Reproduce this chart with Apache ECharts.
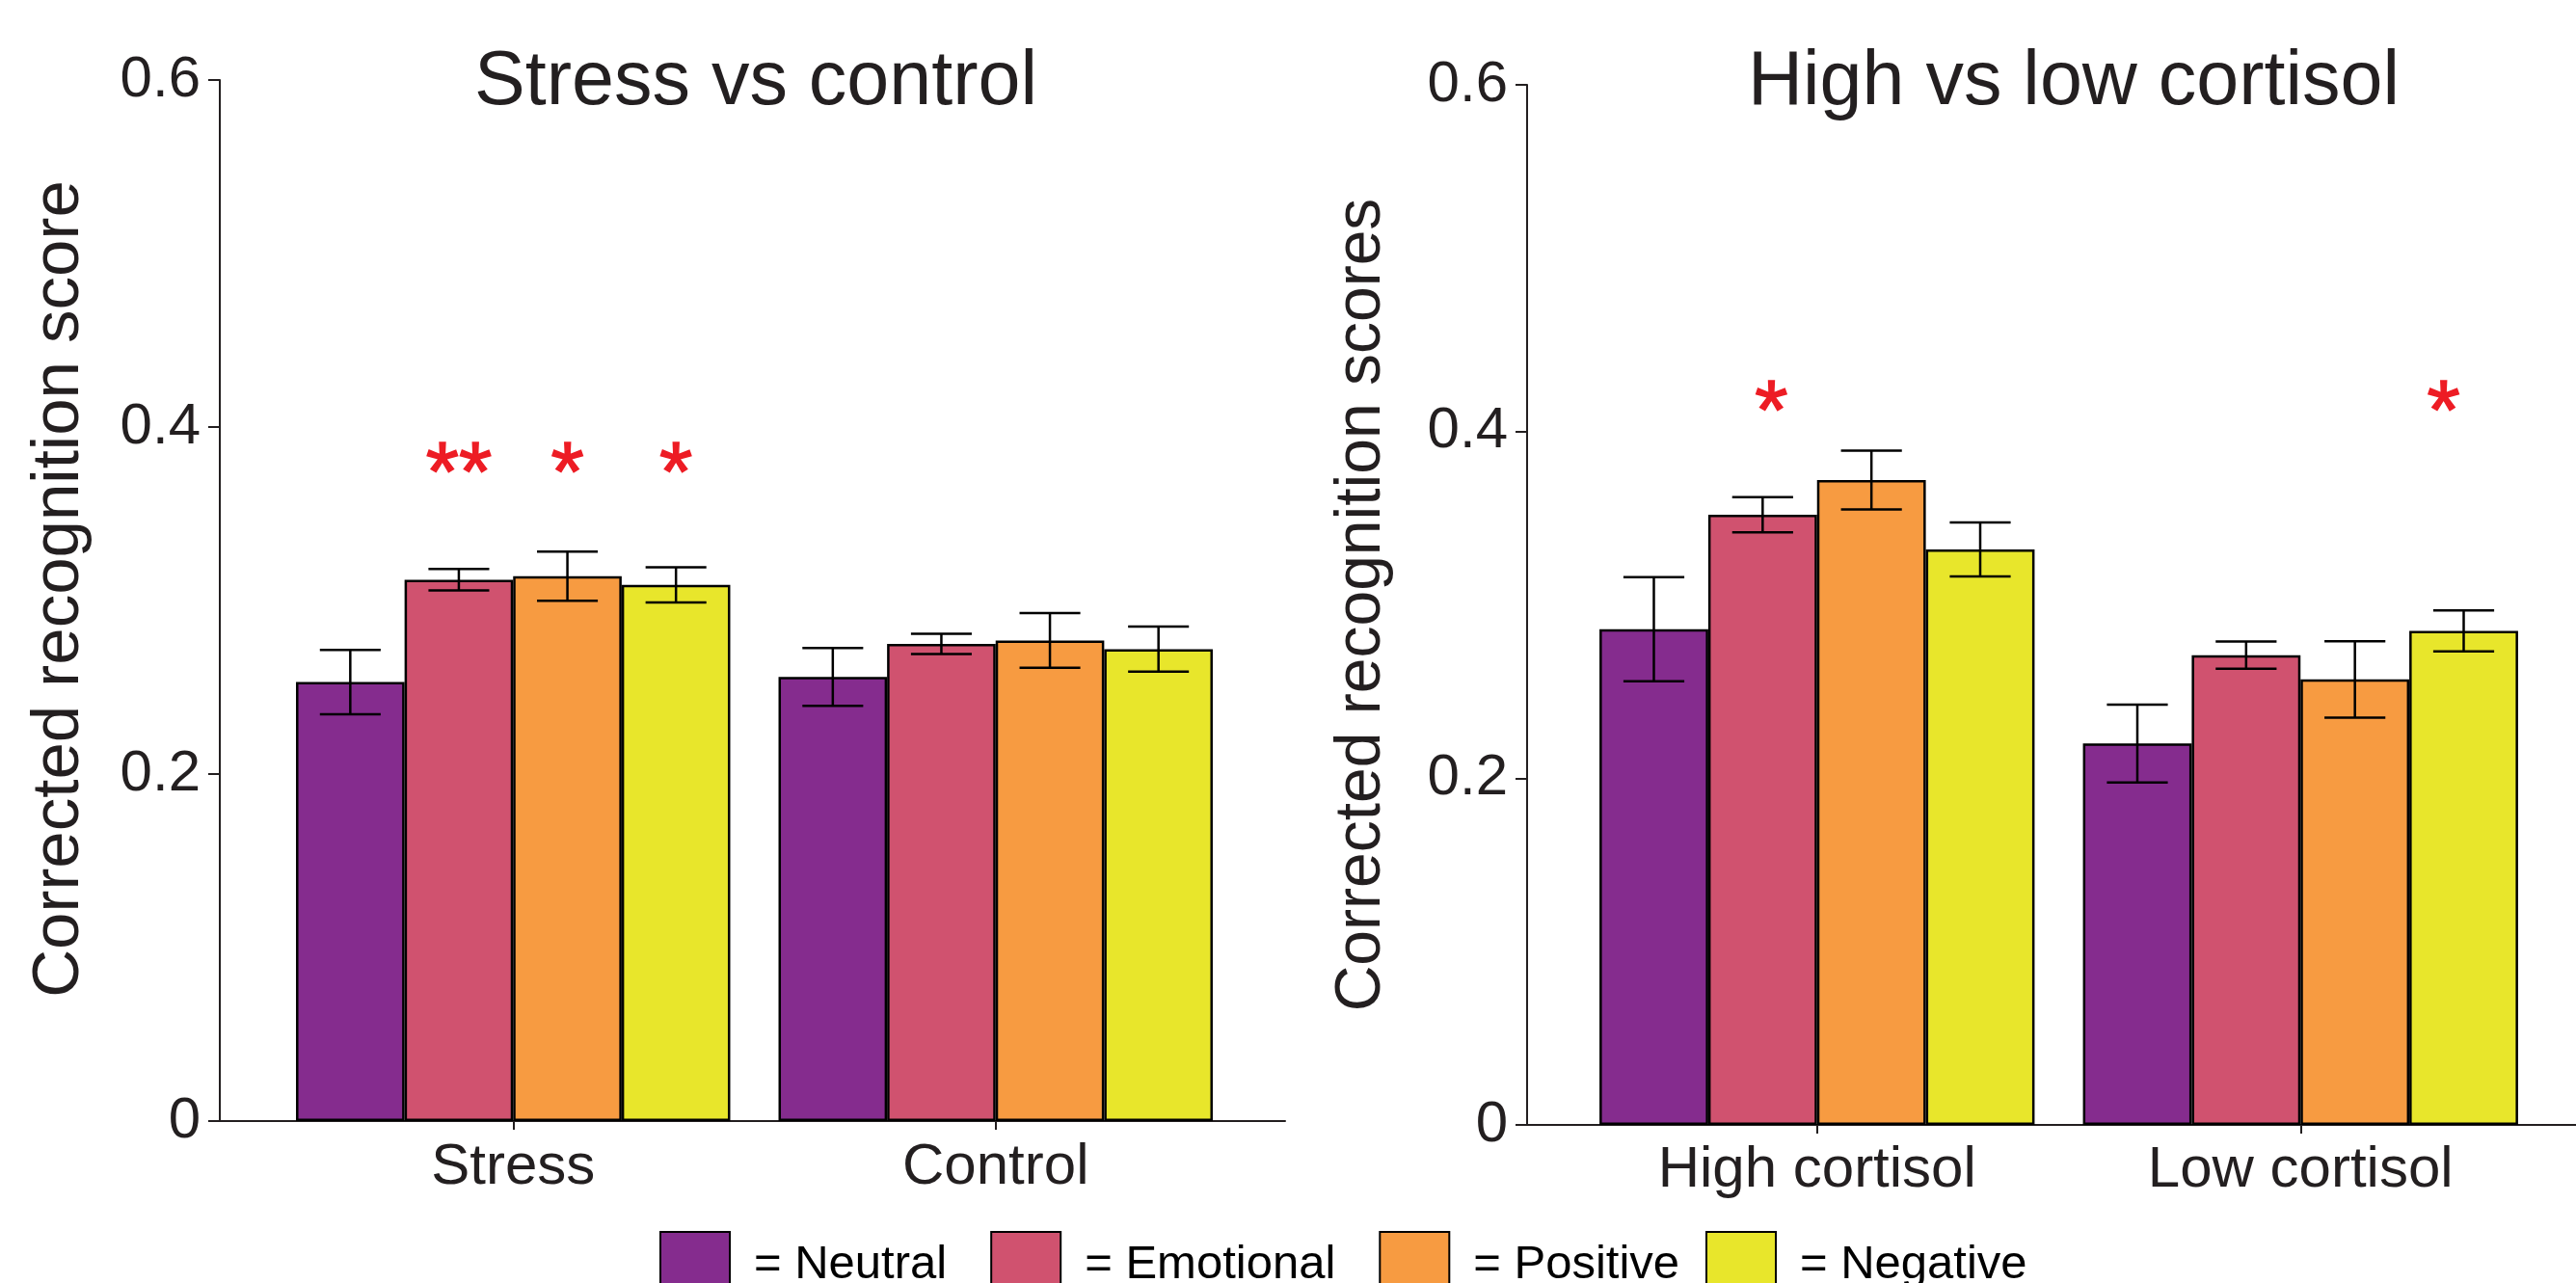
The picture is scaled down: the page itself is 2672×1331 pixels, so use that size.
<!DOCTYPE html>
<html><head><meta charset="utf-8">
<script src="https://cdn.jsdelivr.net/npm/echarts@6/dist/echarts.min.js"></script>
<style>html,body{margin:0;padding:0;background:#fff}#c{width:2672px;height:1331px}</style>
</head><body><div id="c"></div>
<script>
// ---------- data ----------
const conditions = ['Neutral', 'Emotional', 'Positive', 'Negative'];
const colors = ['#852c8e', '#d0526f', '#f79b41', '#e8e62b'];
const yTicks = [0, 0.2, 0.4, 0.6];

const leftTitle = 'Stress vs control';
const leftAxisName = 'Corrected recognition score';
const leftCategories = ['Stress', 'Control'];
const leftNeutral   = [0.253, 0.256];
const leftEmotional = [0.312, 0.275];
const leftPositive  = [0.314, 0.277];
const leftNegative  = [0.309, 0.272];
const leftNeutralErr   = [0.0185, 0.0167];
const leftEmotionalErr = [0.0062, 0.0058];
const leftPositiveErr  = [0.0142, 0.0158];
const leftNegativeErr  = [0.0101, 0.0130];
// significance marks: [category index, condition index, mark]
const leftSig = [[0, 1, '**'], [0, 2, '*'], [0, 3, '*']];
const leftSigLevel = 0.382;

const rightTitle = 'High vs low cortisol';
const rightAxisName = 'Corrected recognition scores';
const rightCategories = ['High cortisol', 'Low cortisol'];
const rightNeutral   = [0.286, 0.220];
const rightEmotional = [0.352, 0.271];
const rightPositive  = [0.372, 0.257];
const rightNegative  = [0.332, 0.285];
const rightNeutralErr   = [0.030, 0.0225];
const rightEmotionalErr = [0.0101, 0.0078];
const rightPositiveErr  = [0.0170, 0.022];
const rightNegativeErr  = [0.0156, 0.0118];
const rightSig = [[0, 1, '*'], [1, 3, '*']];
const rightSigLevel = 0.42;

// ---------- styling ----------
const FONT = '"Liberation Sans", Arial, Helvetica, sans-serif';
const INK = '#231f20';
const CAT_GAP = 0.10;
const SIG_FONT = 88;
const leftSigNudge = [0, 0, 0];     // horizontal pixel nudges of the marks
const rightSigNudge = [9, -21];

const leftMeans = [leftNeutral, leftEmotional, leftPositive, leftNegative];
const leftErrs = [leftNeutralErr, leftEmotionalErr, leftPositiveErr, leftNegativeErr];
const rightMeans = [rightNeutral, rightEmotional, rightPositive, rightNegative];
const rightErrs = [rightNeutralErr, rightEmotionalErr, rightPositiveErr, rightNegativeErr];

function errData(means, errs) {
  const out = [];
  means.forEach((arr, k) => arr.forEach((v, c) => out.push([c, k, v, errs[k][c]])));
  return out;
}
function barGeom(api, cat, k) {
  const band = api.coord([1, 0])[0] - api.coord([0, 0])[0];
  const barW = band * (1 - CAT_GAP) / 4;
  const cx = api.coord([cat, 0])[0] + (k - 1.5) * barW;
  return { cx, barW };
}
function renderErr(params, api) {
  const cat = api.value(0), k = api.value(1), mean = api.value(2), err = api.value(3);
  const g = barGeom(api, cat, k);
  const yT = api.coord([cat, mean + err])[1];
  const yB = api.coord([cat, mean - err])[1];
  const hw = g.barW * 0.28;
  const st = { stroke: '#000', lineWidth: 2.5 };
  return { type: 'group', children: [
    { type: 'line', shape: { x1: g.cx, y1: yT, x2: g.cx, y2: yB }, style: st },
    { type: 'line', shape: { x1: g.cx - hw, y1: yT, x2: g.cx + hw, y2: yT }, style: st },
    { type: 'line', shape: { x1: g.cx - hw, y1: yB, x2: g.cx + hw, y2: yB }, style: st }
  ]};
}

function sigSeries(list, level, ax, nudges) {
  return { type: 'custom', xAxisIndex: ax, yAxisIndex: ax, z: 6,
    renderItem: (p, api) => {
      const cat = api.value(0), k = api.value(1), lvl = api.value(2);
      const g = barGeom(api, cat, k);
      const y = api.coord([cat, lvl])[1] + SIG_FONT * 0.215;
      return { type: 'text', x: g.cx + nudges[p.dataIndex], y: y, style: {
        text: list[p.dataIndex][2], fill: '#ed1c24', stroke: '#ed1c24', lineWidth: 1.5,
        font: SIG_FONT + 'px ' + FONT, align: 'center', verticalAlign: 'middle' } };
    },
    data: list.map(s => [s[0], s[1], level]) };
}

function frameAxes(grid, name, gap, nameSize, namePad) {
  return {
    x: { gridIndex: grid, type: 'value', min: 0, max: 1,
      axisLine: { show: true, onZero: false, lineStyle: { color: INK, width: 2 } },
      axisTick: { show: false }, axisLabel: { show: false }, splitLine: { show: false } },
    y: { gridIndex: grid, type: 'value', min: yTicks[0], max: yTicks[yTicks.length - 1], interval: 0.2,
      axisLine: { show: true, lineStyle: { color: INK, width: 2 } },
      axisTick: { show: true, length: 12, lineStyle: { color: INK, width: 2 } },
      axisLabel: { fontSize: 60, margin: 20, color: INK, fontFamily: FONT },
      splitLine: { show: false },
      name: name, nameLocation: 'middle', nameGap: gap,
      nameTextStyle: { fontSize: nameSize, color: INK, fontFamily: FONT, padding: namePad } }
  };
}
function barAxes(grid, cats, margin) {
  return {
    x: { gridIndex: grid, type: 'category', data: cats,
      axisLine: { show: true, lineStyle: { color: INK, width: 2 } },
      axisTick: { show: true, alignWithLabel: true, length: 9, lineStyle: { color: INK, width: 2 } },
      axisLabel: { fontSize: 60, margin: margin, color: INK, fontFamily: FONT } },
    y: { gridIndex: grid, type: 'value', min: 0, max: 0.6, show: false }
  };
}

const fL = frameAxes(0, leftAxisName, 132, 69, [0, 0, 0, 24]);
const bL = barAxes(1, leftCategories, 18);
const fR = frameAxes(2, rightAxisName, 138, 66, [0, 0, 0, 0]);
const bR = barAxes(3, rightCategories, 17);

const series = [];
[[leftMeans, 1], [rightMeans, 3]].forEach(([means, ax]) => {
  means.forEach((vals, k) => series.push({
    type: 'bar', name: conditions[k], xAxisIndex: ax, yAxisIndex: ax, data: vals,
    barGap: '0%', barCategoryGap: (CAT_GAP * 100) + '%',
    itemStyle: { color: colors[k], borderColor: '#000', borderWidth: 2.5 }
  }));
});
series.push({ type: 'custom', xAxisIndex: 1, yAxisIndex: 1, renderItem: renderErr, data: errData(leftMeans, leftErrs), z: 5 });
series.push({ type: 'custom', xAxisIndex: 3, yAxisIndex: 3, renderItem: renderErr, data: errData(rightMeans, rightErrs), z: 5 });
series.push(sigSeries(leftSig, leftSigLevel, 1, leftSigNudge));
series.push(sigSeries(rightSig, rightSigLevel, 3, rightSigNudge));

function legendPart(names, left) {
  return {
    data: names, left: left, top: 1277, padding: 0, itemWidth: 72, itemHeight: 68, itemGap: 45,
    icon: 'rect', formatter: '= {name}',
    textStyle: { fontSize: 49, color: '#000', fontFamily: FONT, padding: [0, 0, 0, 20] }
  };
}

const chart = echarts.init(document.getElementById('c'), null, { renderer: 'canvas' });
chart.setOption({
  animation: false,
  backgroundColor: '#fff',
  textStyle: { fontFamily: FONT },
  title: [
    { text: leftTitle, left: 784, top: 47, padding: 0, textAlign: 'center',
      textStyle: { fontSize: 79, fontWeight: 'normal', color: INK, fontFamily: FONT } },
    { text: rightTitle, left: 2151, top: 47, padding: 0, textAlign: 'center',
      textStyle: { fontSize: 79, fontWeight: 'normal', color: INK, fontFamily: FONT } }
  ],
  legend: [legendPart(conditions.slice(0, 3), 684), legendPart(conditions.slice(3), 1769)],
  grid: [
    { left: 228, top: 83, width: 1105, height: 1080 },
    { left: 282, top: 83, width: 1001, height: 1080 },
    { left: 1584, top: 88, width: 1088, height: 1079 },
    { left: 1634, top: 88, width: 1003, height: 1079 }
  ],
  xAxis: [fL.x, bL.x, fR.x, bR.x],
  yAxis: [fL.y, bL.y, fR.y, bR.y],
  series: series
});
</script></body></html>
